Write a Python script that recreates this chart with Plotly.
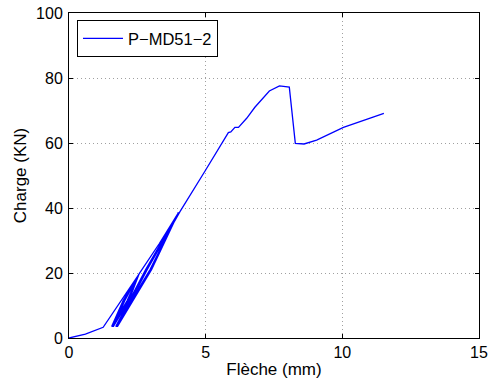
import plotly.graph_objects as go

# Data (Flèche in mm, Charge in KN)
fleche = [0, 0.6, 1.25, 1.9, 2.55,
          2.13, 1.56, 1.98, 2.55, 2.15, 1.58, 2.0, 2.56, 2.17, 1.6, 2.02, 2.56,
          2.19, 1.62, 2.04, 2.57,
          3.3, 4.0,
          2.96, 1.71, 2.8, 4.0, 2.98, 1.73, 2.82, 4.0, 3.0, 1.75, 2.84, 4.01,
          3.02, 1.77, 2.86, 4.02,
          4.06, 5.0, 5.83, 5.92, 6.07, 6.2, 6.5, 6.8, 7.33, 7.7, 8.06, 8.28, 8.6,
          9.06, 10.04, 11.52]
charge = [0, 1.2, 3.3, 11.4, 19.5,
          11.5, 3.5, 11.5, 19.5, 11.5, 3.5, 11.5, 19.6, 11.5, 3.5, 11.5, 19.6,
          11.5, 3.5, 11.5, 19.8,
          29, 38.5,
          21, 3.5, 21, 38.5, 21, 3.5, 21, 38.5, 21, 3.5, 21, 38.6,
          21, 3.5, 21, 38.7,
          38.9, 51.7, 63.2, 63.4, 64.8, 64.8, 67.6, 71, 76, 77.6, 77.2, 59.9, 59.7,
          60.9, 64.8, 69.1]
series_name = "P\u2212MD51\u22122"
x_ticks = [0, 5, 10, 15]
y_ticks = [0, 20, 40, 60, 80, 100]

fig = go.Figure()
fig.add_trace(go.Scatter(x=fleche, y=charge, mode="lines", name=series_name,
                         line=dict(color="#0000ff", width=1.3)))

axis_common = dict(showline=True, linecolor="black", linewidth=1, mirror="ticks",
                   ticks="inside", ticklen=4, tickcolor="black",
                   showgrid=True, gridcolor="#a0a0a0", griddash="1px,3px", gridwidth=1,
                   zeroline=False, automargin=False, ticklabeloverflow="allow",
                   tickfont=dict(size=16, color="black"),
                   title_font=dict(size=17, color="black"))

fig.update_layout(
    width=491, height=385,
    margin=dict(l=69, r=12, t=13, b=47),
    paper_bgcolor="white", plot_bgcolor="white",
    font=dict(family="Liberation Sans, Arial, sans-serif", size=16, color="black"),
    showlegend=True,
    legend=dict(x=0.0195, y=0.978, xanchor="left", yanchor="top",
                bgcolor="white", bordercolor="black", borderwidth=1,
                itemwidth=40, font=dict(size=16.5), tracegroupgap=0),
    xaxis=dict(range=[0, 15], tickvals=x_ticks, ticklabelstandoff=0,
               title=dict(text="Flèche (mm)", standoff=2), **axis_common),
    yaxis=dict(range=[0, 100], tickvals=y_ticks, ticklabelstandoff=2,
               title=dict(text="Charge (KN)", standoff=5), **axis_common),
)

fig.write_html("out.html", config={"displayModeBar": False},
               post_script="document.body.style.margin='0';document.body.style.overflow='hidden';")
